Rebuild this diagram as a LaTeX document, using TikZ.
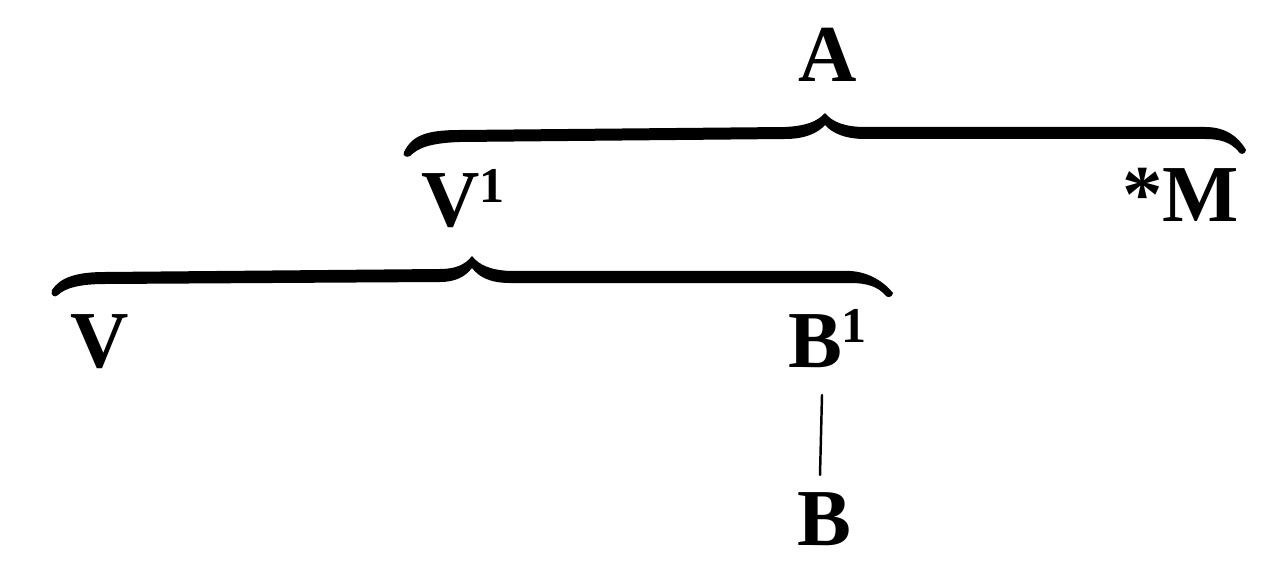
\documentclass[tikz,border=0pt]{standalone}
\usepackage{fontspec}
\setmainfont{Liberation Serif}
\newcommand{\supone}{\raisebox{14pt}{\fontsize{28.5}{30}\selectfont 1}}
\begin{document}
\begin{tikzpicture}[x=0.02cm,y=-0.02cm,
  lbl/.style={font=\fontsize{46}{50}\selectfont\bfseries, inner sep=0pt, outer sep=0pt},
  bracefill/.style={fill=black, draw=none},
  conn/.style={line width=1.4pt, line cap=round}]
\useasboundingbox (0,0) rectangle (1283,577);
% labels
\node[lbl, anchor=base] (A) at (828,82) {A};
\node[lbl, anchor=base west] (V1) at (421,227) {V\supone};
\node[lbl, anchor=base east] (M) at (1239,222) {*M};
\node[lbl, anchor=base] (V) at (100,367) {V};
\node[lbl, anchor=base west] (B1) at (788,367) {B\supone};
\node[lbl, anchor=base] (B) at (824,545) {B};
% upper brace
\path[bracefill] (404,152) .. controls (412,136) and (425,130) .. (460,130)
 -- (785,127)
 .. controls (805,126) and (817,122) .. (825,113)
 .. controls (832,122) and (845,127) .. (865,127)
 -- (1205,127)
 .. controls (1225,127) and (1238,136) .. (1246,150)
 .. controls (1245,155) and (1240,155) .. (1238,151)
 .. controls (1230,142) and (1220,139) .. (1205,139)
 -- (865,139)
 .. controls (845,139) and (832,133) .. (825,125)
 .. controls (818,133) and (805,139) .. (785,139)
 -- (460,142)
 .. controls (430,143) and (418,148) .. (410,156)
 .. controls (407,158) and (402,156) .. (404,152) -- cycle;
% lower brace
\path[bracefill] (52,290) .. controls (60,278) and (75,272) .. (105,272)
 -- (440,269)
 .. controls (455,269) and (465,265) .. (472,256)
 .. controls (479,265) and (490,270) .. (510,271)
 -- (850,271)
 .. controls (870,272) and (885,283) .. (893,293)
 .. controls (892,298) and (887,298) .. (885,295)
 .. controls (878,287) and (868,283) .. (850,283)
 -- (510,283)
 .. controls (490,283) and (479,277) .. (472,268)
 .. controls (465,277) and (455,282) .. (440,282)
 -- (105,284)
 .. controls (80,284) and (65,288) .. (58,295)
 .. controls (55,298) and (50,296) .. (52,290) -- cycle;
% connector B1 -- B
\coordinate (l1) at (822,395);
\coordinate (l2) at (820,475);
\draw[conn] (l1) -- (l2);
\end{tikzpicture}
\end{document}
